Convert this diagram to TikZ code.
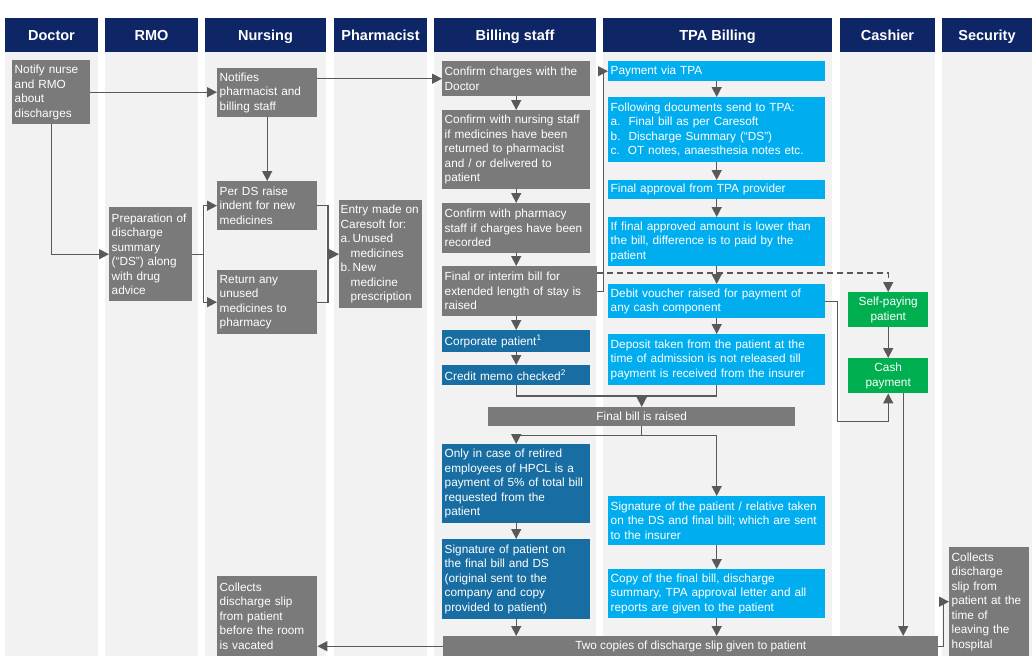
\documentclass[tikz,border=0pt]{standalone}
\usepackage{fontspec}
\setmainfont{Liberation Sans}
\usetikzlibrary{positioning, arrows.meta, calc}

\definecolor{headblue}{RGB}{14,38,102}
\definecolor{lanebg}{RGB}{242,242,242}
\definecolor{boxgray}{RGB}{122,122,122}
\definecolor{tpablue}{RGB}{0,174,239}
\definecolor{corpblue}{RGB}{24,110,163}
\definecolor{cashgreen}{RGB}{0,176,80}
\definecolor{linegray}{RGB}{89,89,89}

\begin{document}
\begin{tikzpicture}
    [
        x=1pt, y=-1pt,
        box/.style={rectangle, anchor=north west, inner xsep=2.5pt, inner ysep=3pt, align=left, text=white,
                    font=\fontsize{11.8}{14.5}\selectfont},
        gbox/.style={box, fill=boxgray},
        tbox/.style={box, fill=tpablue, text width=212pt},
        cbox/.style={box, fill=corpblue, text width=143pt},
        pbox/.style={box, fill=cashgreen, align=center, text width=75pt},
        bar/.style={box, fill=boxgray, align=center},
        headtxt/.style={anchor=base, text=white, font=\bfseries\fontsize{14.5}{16}\selectfont},
        arr/.style={-{Triangle[length=10pt, width=10pt]}, draw=linegray, line width=1.4pt},
        ln/.style={draw=linegray, line width=1.4pt}
    ]
        \useasboundingbox (0,0) rectangle (1032,656);
        \fill[white] (0,0) rectangle (1032,656);

        % =========================================================================
        % LANES
        % =========================================================================
        \foreach \xa/\xb/\lbl [count=\i] in {5/98/Doctor, 105/198/RMO, 205/326/Nursing,
                334/427/Pharmacist, 434/596/Billing staff, 603/832/TPA Billing,
                840/935/Cashier, 942/1032/Security}
        {
            \fill[lanebg] (\xa,52) rectangle (\xb,656);
            \fill[headblue] (\xa,18) rectangle (\xb,52);
            \node[headtxt] (head\i) at ({(\xa+\xb)/2},40.5) {\lbl};
        }

        % =========================================================================
        % NODES
        % =========================================================================
        % --- Doctor / RMO ---
        \node[gbox, text width=73pt, minimum height=64pt] (docNotify) at (12,60)
            {Notify nurse\\and RMO\\about\\discharges};
        \node[gbox, text width=78pt, minimum height=94pt] (rmoPrep) at (109,207)
            {Preparation of\\discharge\\summary\\(“DS”) along\\with drug\\advice};

        % --- Nursing ---
        \node[gbox, text width=95pt, minimum height=49pt] (nurNotify) at (217,68)
            {Notifies\\pharmacist and\\billing staff};
        \node[gbox, text width=95pt, minimum height=49pt] (nurIndent) at (217,181)
            {Per DS raise\\indent for new\\medicines};
        \node[gbox, text width=95pt, minimum height=64pt] (nurReturn) at (217,270)
            {Return any\\unused\\medicines to\\pharmacy};
        \node[gbox, text width=95pt, minimum height=80pt] (nurCollect) at (217,576)
            {Collects\\discharge slip\\from patient\\before the room\\is vacated};

        % --- Pharmacist ---
        \node[gbox, inner xsep=1.5pt, text width=80pt, minimum height=108pt] (phaEntry) at (339,200)
            {Entry made on\\Caresoft for:\\a.\,Unused\\\hspace*{10pt}medicines\\b.\,New\\\hspace*{10pt}medicine\\\hspace*{10pt}prescription};

        % --- Billing staff ---
        \node[gbox, text width=143pt, minimum height=35pt] (bilConfirm) at (442,61)
            {Confirm charges with the\\Doctor};
        \node[gbox, text width=143pt, minimum height=79pt] (bilNursing) at (442,110)
            {Confirm with nursing staff\\if medicines have been\\returned to pharmacist\\and / or delivered to\\patient};
        \node[gbox, text width=143pt, minimum height=50pt] (bilPharm) at (442,203)
            {Confirm with pharmacy\\staff if charges have been\\recorded};
        \node[gbox, text width=150pt, minimum height=50pt] (bilInterim) at (442,266)
            {Final or interim bill for\\extended length of stay is\\raised};
        \node[cbox, minimum height=22pt] (bilCorp) at (442,330)
            {Corporate patient\textsuperscript{1}};
        \node[cbox, minimum height=20pt] (bilMemo) at (442,365)
            {Credit memo checked\textsuperscript{2}};
        \node[bar, minimum width=307pt, minimum height=19pt] (finalBill) at (488,407)
            {Final bill is raised};
        \node[cbox, minimum height=79pt] (bilHPCL) at (442,444)
            {Only in case of retired\\employees of HPCL is a\\payment of 5\% of total bill\\requested from the\\patient};
        \node[cbox, minimum height=80pt] (bilSign) at (442,539)
            {Signature of patient on\\the final bill and DS\\(original sent to the\\company and copy\\provided to patient)};
        \node[bar, minimum width=495pt, minimum height=20pt] (twoCopies) at (443,636)
            {Two copies of discharge slip given to patient};

        % --- TPA Billing ---
        \node[tbox, minimum height=20pt] (tpaPay) at (608,61) {Payment via TPA};
        \node[tbox, minimum height=65pt] (tpaDocs) at (608,97)
            {Following documents send to TPA:\\a.\hspace{8pt}Final bill as per Caresoft\\b.\hspace{8pt}Discharge Summary (“DS”)\\c.\hspace{8pt}OT notes, anaesthesia notes etc.};
        \node[tbox, minimum height=19pt] (tpaApproval) at (608,180) {Final approval from TPA provider};
        \node[tbox, minimum height=49pt] (tpaLower) at (608,217)
            {If final approved amount is lower than\\the bill, difference is to paid by the\\patient};
        \node[tbox, minimum height=34pt] (tpaDebit) at (608,284)
            {Debit voucher raised for payment of\\any cash component};
        \node[tbox, minimum height=51pt] (tpaDeposit) at (608,334)
            {Deposit taken from the patient at the\\time of admission is not released till\\payment is received from the insurer};
        \node[tbox, minimum height=49pt] (tpaSign) at (608,496)
            {Signature of the patient / relative taken\\on the DS and final bill; which are sent\\to the insurer};
        \node[tbox, minimum height=49pt] (tpaCopy) at (608,569)
            {Copy of the final bill, discharge\\summary, TPA approval letter and all\\reports are given to the patient};

        % --- Cashier / Security ---
        \node[pbox, minimum height=35pt] (casSelf) at (848,292) {Self-paying\\patient};
        \node[pbox, minimum height=35pt] (casCash) at (848,358) {Cash\\payment};
        \node[gbox, text width=75pt, minimum height=109pt] (secCollect) at (949,547)
            {Collects\\discharge\\slip from\\patient at the\\time of\\leaving the\\hospital};

        % =========================================================================
        % PATHS
        % =========================================================================
        % --- Doctor, RMO, Nursing, Pharmacist ---
        \draw[arr] (docNotify.east) -- (docNotify.east -| nurNotify.west);
        \draw[arr] (docNotify.south) |- (rmoPrep.west);
        \draw[arr] (nurNotify.east |- bilConfirm.west) -- (bilConfirm.west);
        \draw[arr] (nurNotify.south) -- (nurIndent.north);
        \coordinate (rmoSplit) at ($(rmoPrep.east)+(11,0)$);
        \draw[ln] (rmoPrep.east) -- (rmoSplit);
        \draw[arr] (rmoSplit) |- (nurIndent.west);
        \draw[arr] (rmoSplit) |- (nurReturn.west);
        \coordinate (phaJoin) at ($(phaEntry.west)+(-11,0)$);
        \draw[ln] (nurIndent.east) -| (phaJoin);
        \draw[ln] (nurReturn.east) -| (phaJoin);
        \draw[arr] (phaJoin) -- (phaEntry.west);

        % --- Billing staff ---
        \draw[arr] (bilConfirm.south) -- (bilNursing.north);
        \draw[arr] (bilNursing.south) -- (bilPharm.north);
        \draw[arr] (bilPharm.south) -- (bilPharm.south |- bilInterim.north);
        \draw[arr] (bilInterim.south -| bilCorp.north) -- (bilCorp.north);
        \draw[arr] (bilCorp.south) -- (bilMemo.north);
        \draw[arr] (bilInterim.east) -- ++(6,0) |- (tpaPay.west);
        \draw[arr, dashed, dash pattern=on 6pt off 4pt] ($(bilInterim.north east)+(0,7)$) -| (casSelf.north);

        % --- TPA Billing ---
        \draw[arr] (tpaPay.south) -- (tpaDocs.north);
        \draw[arr] (tpaDocs.south) -- (tpaApproval.north);
        \draw[arr] (tpaApproval.south) -- (tpaLower.north);
        \draw[arr] (tpaLower.south) -- (tpaDebit.north);
        \draw[arr] (tpaDebit.south) -- (tpaDeposit.north);
        \coordinate (debitTurn) at ($(tpaDebit.east)+(12,120)$);
        \draw[arr] (tpaDebit.east) -| (debitTurn) -| (casCash.south);
        \draw[arr] (casSelf.south) -- (casCash.north);
        \coordinate (cashOut) at ($(casCash.south)+(15,0)$);
        \draw[arr] (cashOut) -- (cashOut |- twoCopies.north);

        % --- Final bill ---
        \coordinate (mergeBill) at ($(finalBill.north)+(0,-11)$);
        \draw[ln] (bilMemo.south) |- (mergeBill) -| (tpaDeposit.south);
        \draw[arr] (mergeBill) -- (finalBill.north);
        \coordinate (splitBill) at ($(finalBill.south)+(0,9)$);
        \draw[ln] (finalBill.south) -- (splitBill);
        \draw[arr] (splitBill) -| (bilHPCL.north);
        \draw[arr] (splitBill) -| (tpaSign.north);
        \draw[arr] (bilHPCL.south) -- (bilSign.north);
        \draw[arr] (bilSign.south) -- (bilSign.south |- twoCopies.north);
        \draw[arr] (tpaSign.south) -- (tpaCopy.north);
        \draw[arr] (tpaCopy.south) -- (tpaCopy.south |- twoCopies.north);

        % --- Discharge slip ---
        \draw[arr] (twoCopies.west) -- (twoCopies.west -| nurCollect.east);
        \draw[arr] (twoCopies.east) -- ++(5,0) |- (secCollect.west);

    \end{tikzpicture}
\end{document}
